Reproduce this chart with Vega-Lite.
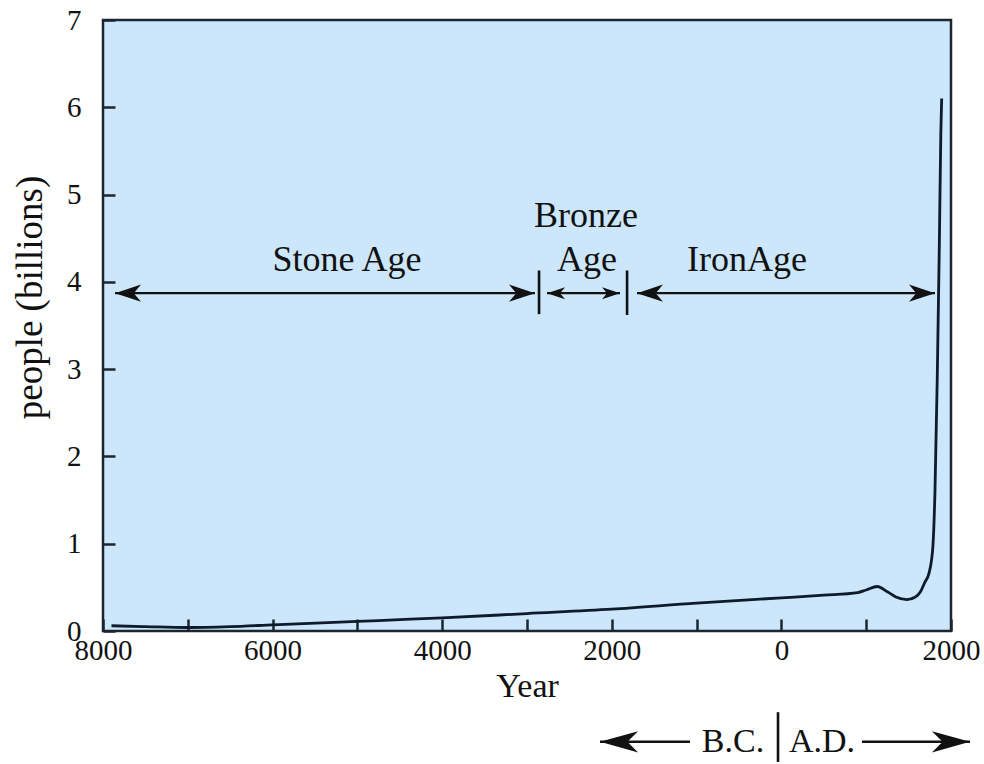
{
  "$schema": "https://vega.github.io/schema/vega-lite/v6.json",
  "width": 848,
  "height": 611,
  "autosize": {"type": "none"},
  "padding": {"left": 103, "top": 20, "right": 33, "bottom": 133},
  "background": "white",
  "config": {
    "view": {"fill": "#cce6fb", "stroke": "#1c2630", "strokeWidth": 2.5},
    "font": "Liberation Serif",
    "axis": {
      "domain": false,
      "grid": false,
      "tickColor": "#1c2630",
      "tickWidth": 2.5,
      "tickSize": -12,
      "labelFont": "Liberation Serif",
      "labelFontSize": 29,
      "labelColor": "#111",
      "labelFlush": false,
      "labelOverlap": false,
      "titleFont": "Liberation Serif",
      "titleFontSize": 34,
      "titleFontWeight": "normal",
      "titleColor": "#111"
    }
  },
  "datasets": {
    "population": [
      {"year": -7900, "people": 0.06},
      {"year": -7500, "people": 0.05},
      {"year": -7000, "people": 0.04},
      {"year": -6500, "people": 0.05},
      {"year": -6000, "people": 0.07},
      {"year": -5000, "people": 0.11},
      {"year": -4500, "people": 0.13},
      {"year": -4000, "people": 0.15},
      {"year": -3000, "people": 0.2},
      {"year": -2000, "people": 0.25},
      {"year": -1000, "people": 0.32},
      {"year": 0, "people": 0.38},
      {"year": 500, "people": 0.41},
      {"year": 900, "people": 0.44},
      {"year": 1000, "people": 0.47},
      {"year": 1130, "people": 0.51},
      {"year": 1250, "people": 0.45},
      {"year": 1350, "people": 0.39},
      {"year": 1480, "people": 0.36},
      {"year": 1580, "people": 0.39},
      {"year": 1640, "people": 0.45},
      {"year": 1693, "people": 0.56},
      {"year": 1740, "people": 0.66},
      {"year": 1785, "people": 0.95},
      {"year": 1811, "people": 1.6},
      {"year": 1838, "people": 2.9},
      {"year": 1862, "people": 4.4},
      {"year": 1880, "people": 5.7},
      {"year": 1890, "people": 6.1}
    ],
    "arrows": [
      {"kind": "Stone", "from": -7858, "to": -2906, "y": 3.87},
      {"kind": "Bronze", "from": -2764, "to": -1903, "y": 3.87},
      {"kind": "Iron", "from": -1703, "to": 1811, "y": 3.87}
    ],
    "bottomArrows": [
      {"kind": "BC", "from": -2139, "to": -1078, "y": -1.27, "head": "left"},
      {"kind": "AD", "from": 950, "to": 2224, "y": -1.27, "head": "right"}
    ],
    "bars": [
      {"x": -2858, "y": 3.63, "y2": 4.13},
      {"x": -1820, "y": 3.62, "y2": 4.13},
      {"x": -40, "y": -0.93, "y2": -1.5}
    ],
    "labels": [
      {"label": "Stone Age", "x": -5123, "y": 4.12},
      {"label": "Bronze", "x": -2304, "y": 4.63},
      {"label": "Age", "x": -2292, "y": 4.12},
      {"label": "IronAge", "x": -405, "y": 4.12}
    ],
    "era": [
      {"label": "B.C.", "x": -571, "y": -1.39},
      {"label": "A.D.", "x": 479, "y": -1.39}
    ]
  },
  "layer": [
    {
      "data": {"name": "population"},
      "mark": {"type": "line", "interpolate": "monotone", "color": "#0d1b2a", "strokeWidth": 2.8},
      "encoding": {
        "x": {
          "field": "year", "type": "quantitative",
          "scale": {"domain": [-8000, 2000], "nice": false, "zero": false},
          "axis": {
            "values": [-8000, -7000, -6000, -5000, -4000, -3000, -2000, -1000, 0, 1000, 2000],
            "labelExpr": "datum.value % 2000 == 0 ? format(abs(datum.value), 'd') : ''",
            "labelPadding": 17,
            "title": "Year",
            "titlePadding": 4
          }
        },
        "y": {
          "field": "people", "type": "quantitative",
          "scale": {"domain": [0, 7], "nice": false},
          "axis": {
            "values": [0, 1, 2, 3, 4, 5, 6, 7],
            "format": "d",
            "labelPadding": 34,
            "title": "people (billions)",
            "titleFontSize": 37,
            "titleX": -54,
            "titleY": 277
          }
        }
      }
    },
    {
      "data": {"name": "arrows"},
      "mark": {"type": "rule", "color": "#111", "strokeWidth": 2.2},
      "encoding": {
        "x": {"field": "from", "type": "quantitative"},
        "x2": {"field": "to"},
        "y": {"field": "y", "type": "quantitative"}
      }
    },
    {
      "data": {"name": "arrows"},
      "mark": {"type": "point", "filled": true, "opacity": 1, "color": "#111", "shape": "M0,0 L1,-0.33 L0.72,0 L1,0.33 Z"},
      "encoding": {
        "x": {"field": "from", "type": "quantitative"},
        "y": {"field": "y", "type": "quantitative"},
        "size": {"condition": {"test": "datum.kind === 'Bronze'", "value": 1300}, "value": 2704}
      }
    },
    {
      "data": {"name": "arrows"},
      "mark": {"type": "point", "filled": true, "opacity": 1, "color": "#111", "shape": "M0,0 L-1,-0.33 L-0.72,0 L-1,0.33 Z"},
      "encoding": {
        "x": {"field": "to", "type": "quantitative"},
        "y": {"field": "y", "type": "quantitative"},
        "size": {"condition": {"test": "datum.kind === 'Bronze'", "value": 1300}, "value": 2704}
      }
    },
    {
      "data": {"name": "bottomArrows"},
      "mark": {"type": "rule", "color": "#111", "strokeWidth": 2.5},
      "encoding": {
        "x": {"field": "from", "type": "quantitative"},
        "x2": {"field": "to"},
        "y": {"field": "y", "type": "quantitative"}
      }
    },
    {
      "data": {"name": "bottomArrows"},
      "transform": [{"filter": "datum.head === 'left'"}],
      "mark": {"type": "point", "filled": true, "opacity": 1, "color": "#111", "shape": "M0,0 L1,-0.28 L0.72,0 L1,0.28 Z", "size": 5800},
      "encoding": {
        "x": {"field": "from", "type": "quantitative"},
        "y": {"field": "y", "type": "quantitative"}
      }
    },
    {
      "data": {"name": "bottomArrows"},
      "transform": [{"filter": "datum.head === 'right'"}],
      "mark": {"type": "point", "filled": true, "opacity": 1, "color": "#111", "shape": "M0,0 L-1,-0.28 L-0.72,0 L-1,0.28 Z", "size": 5800},
      "encoding": {
        "x": {"field": "to", "type": "quantitative"},
        "y": {"field": "y", "type": "quantitative"}
      }
    },
    {
      "data": {"name": "bars"},
      "mark": {"type": "rule", "color": "#111", "strokeWidth": 2.6},
      "encoding": {
        "x": {"field": "x", "type": "quantitative"},
        "y": {"field": "y", "type": "quantitative"},
        "y2": {"field": "y2"}
      }
    },
    {
      "data": {"name": "labels"},
      "mark": {"type": "text", "fontSize": 36, "font": "Liberation Serif", "color": "#111", "align": "center", "baseline": "alphabetic"},
      "encoding": {
        "x": {"field": "x", "type": "quantitative"},
        "y": {"field": "y", "type": "quantitative"},
        "text": {"field": "label"}
      }
    },
    {
      "data": {"name": "era"},
      "mark": {"type": "text", "fontSize": 34, "font": "Liberation Serif", "color": "#111", "align": "center", "baseline": "alphabetic"},
      "encoding": {
        "x": {"field": "x", "type": "quantitative"},
        "y": {"field": "y", "type": "quantitative"},
        "text": {"field": "label"}
      }
    }
  ]
}
